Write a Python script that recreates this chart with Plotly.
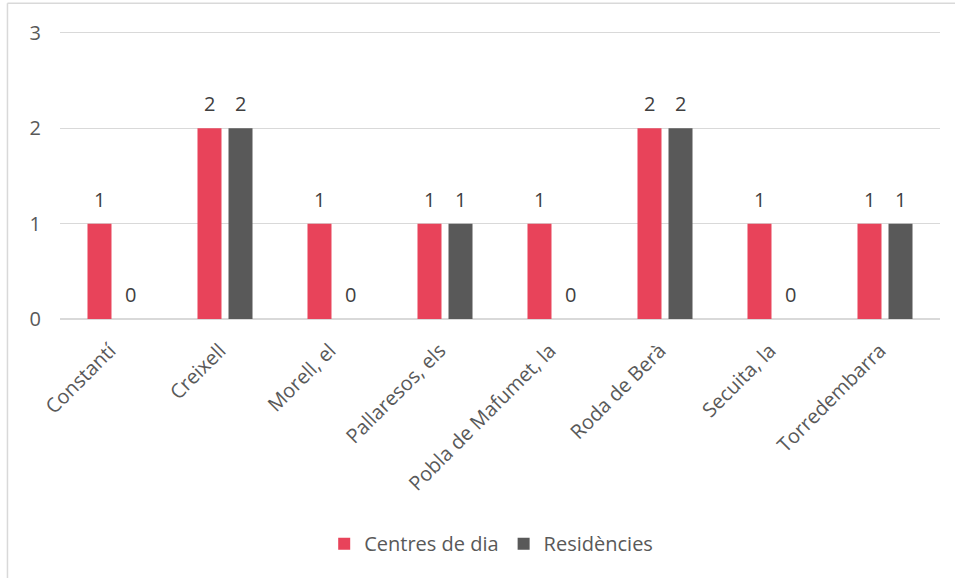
import plotly.graph_objects as go

categories = ["Constantí", "Creixell", "Morell, el", "Pallaresos, els",
              "Pobla de Mafumet, la", "Roda de Berà", "Secuita, la", "Torredembarra"]
centres_de_dia = [1, 2, 1, 1, 1, 2, 1, 1]
residencies = [0, 2, 0, 1, 0, 2, 0, 1]
series_names = ["Centres de dia", "Residències"]
colors = ["#E8435A", "#595959"]
y_ticks = [0, 1, 2, 3]

FONT = "'Open Sans', sans-serif"
FS = 20

fig = go.Figure()
for name, vals, col in zip(series_names, [centres_de_dia, residencies], colors):
    fig.add_trace(go.Bar(
        x=categories, y=vals, name=name,
        marker=dict(color=col, line=dict(width=0)),
    ))

# data labels placed above each bar of the group
annotations = []
for shift, vals in zip([-15.5, 15.5], [centres_de_dia, residencies]):
    for c, v in zip(categories, vals):
        annotations.append(dict(
            x=c, y=v, xref="x", yref="y", text=str(v), showarrow=False,
            xanchor="center", yanchor="bottom", xshift=shift, yshift=9,
            font=dict(family=FONT, size=FS, color="#404040"),
        ))

fig.update_layout(
    width=955, height=578,
    margin=dict(l=60, r=15, t=31, b=259, autoexpand=False),
    paper_bgcolor="white", plot_bgcolor="white",
    barmode="group", bargap=0.436, bargroupgap=0.226,
    font=dict(family=FONT, size=FS, color="#595959"),
    showlegend=True,
    legend=dict(orientation="h", x=0.49, xanchor="center", y=-0.78, yanchor="middle",
                font=dict(size=FS, color="#595959"), itemwidth=30),
    xaxis=dict(tickangle=-45, showgrid=False, showline=False, ticks="",
               ticklabelstandoff=15, ticklabelshift=-5,
               tickfont=dict(size=FS, color="#595959")),
    yaxis=dict(range=[0, 3.02], tickvals=y_ticks, showgrid=True,
               gridcolor="#D9D9D9", gridwidth=1,
               zeroline=True, zerolinecolor="#D9D9D9", zerolinewidth=1.5,
               showline=False, ticks="", ticklabelstandoff=18,
               tickfont=dict(size=FS, color="#595959")),
    annotations=annotations,
    shapes=[
        dict(type="line", xref="paper", yref="paper", x0=-0.0597, x1=1.2, y0=1.0962, y1=1.0962,
             line=dict(color="#D9D9D9", width=1.5)),
        dict(type="line", xref="paper", yref="paper", x0=-0.0597, x1=-0.0597, y0=1.0962, y1=-1.2,
             line=dict(color="#D9D9D9", width=1.5)),
    ],
)

fig.write_html("out.html", config={"displayModeBar": False},
               post_script="document.body.style.margin='0';")
